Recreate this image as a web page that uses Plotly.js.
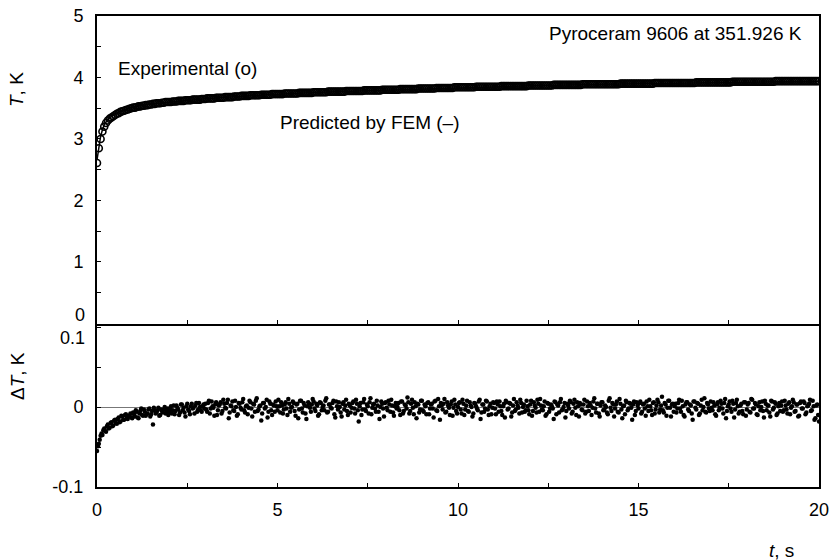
<!DOCTYPE html>
<html>
<head>
<meta charset="utf-8">
<script src="https://cdn.plot.ly/plotly-3.0.1.min.js"></script>
<style>html,body{margin:0;padding:0;background:#fff}</style>
</head>
<body>
<div id="chart" style="width:834px;height:560px"></div>
<script>
// sampling grid of the measurement (s)
const tStart = 0;
const tStep = 0.05;

// Experimental temperature rise T (K), one value per sample
const T_exp = [
2.61,2.85,3.00,3.12,3.20,3.26,3.30,3.33,3.35,3.37,3.39,3.41,3.42,3.44,3.45,3.46,3.47,3.48,3.49,3.50,
3.51,3.51,3.52,3.53,3.53,3.54,3.54,3.55,3.55,3.56,3.56,3.57,3.57,3.58,3.58,3.58,3.59,3.59,3.60,3.60,
3.60,3.60,3.61,3.61,3.61,3.62,3.62,3.62,3.62,3.63,3.63,3.63,3.63,3.64,3.64,3.64,3.64,3.64,3.65,3.65,
3.65,3.66,3.66,3.66,3.66,3.66,3.67,3.67,3.67,3.67,3.67,3.68,3.68,3.68,3.68,3.68,3.69,3.69,3.69,3.69,
3.70,3.70,3.70,3.70,3.70,3.71,3.71,3.71,3.71,3.71,3.71,3.72,3.72,3.72,3.72,3.72,3.72,3.73,3.73,3.73,
3.73,3.73,3.73,3.73,3.74,3.74,3.74,3.74,3.74,3.74,3.74,3.74,3.75,3.75,3.75,3.75,3.75,3.75,3.75,3.75,
3.76,3.76,3.76,3.76,3.76,3.76,3.76,3.76,3.77,3.77,3.77,3.77,3.77,3.77,3.77,3.77,3.77,3.77,3.78,3.78,
3.78,3.78,3.78,3.78,3.78,3.78,3.78,3.78,3.79,3.79,3.79,3.79,3.79,3.79,3.79,3.79,3.79,3.79,3.80,3.80,
3.80,3.80,3.80,3.80,3.80,3.80,3.80,3.80,3.81,3.81,3.81,3.81,3.81,3.81,3.81,3.81,3.81,3.81,3.82,3.82,
3.82,3.82,3.82,3.82,3.82,3.82,3.82,3.82,3.83,3.83,3.83,3.83,3.83,3.83,3.83,3.83,3.83,3.83,3.84,3.84,
3.84,3.84,3.84,3.84,3.84,3.84,3.84,3.84,3.84,3.84,3.85,3.85,3.85,3.85,3.85,3.85,3.85,3.85,3.85,3.85,
3.85,3.85,3.85,3.85,3.86,3.86,3.86,3.86,3.86,3.86,3.86,3.86,3.86,3.86,3.86,3.86,3.86,3.86,3.86,3.87,
3.87,3.87,3.87,3.87,3.87,3.87,3.87,3.87,3.87,3.87,3.87,3.87,3.87,3.88,3.88,3.88,3.88,3.88,3.88,3.88,
3.88,3.88,3.88,3.88,3.88,3.88,3.88,3.88,3.88,3.89,3.89,3.89,3.89,3.89,3.89,3.89,3.89,3.89,3.89,3.89,
3.89,3.89,3.89,3.89,3.89,3.89,3.89,3.89,3.89,3.89,3.90,3.90,3.90,3.90,3.90,3.90,3.90,3.90,3.90,3.90,
3.90,3.90,3.90,3.90,3.90,3.90,3.90,3.90,3.90,3.91,3.91,3.91,3.91,3.91,3.91,3.91,3.91,3.91,3.91,3.91,
3.91,3.91,3.91,3.91,3.91,3.91,3.91,3.91,3.91,3.91,3.91,3.91,3.92,3.92,3.92,3.92,3.92,3.92,3.92,3.92,
3.92,3.92,3.92,3.92,3.92,3.92,3.92,3.92,3.92,3.92,3.92,3.92,3.93,3.93,3.93,3.93,3.93,3.93,3.93,3.93,
3.93,3.93,3.93,3.93,3.93,3.93,3.93,3.93,3.93,3.93,3.93,3.93,3.93,3.93,3.93,3.93,3.94,3.94,3.94,3.94,
3.94,3.94,3.94,3.94,3.94,3.94,3.94,3.94,3.94,3.94,3.94,3.94,3.94,3.94,3.94,3.94,3.94,3.94,3.94,3.94,
3.94
];

// Residuals ΔT (K) at the same sample times as T_exp
const dT = [
-0.055,-0.046,-0.036,-0.035,-0.027,-0.031,-0.022,-0.026,-0.019,-0.023,-0.016,-0.021,-0.013,-0.018,-0.012,-0.016,-0.009,-0.015,-0.011,-0.013,
-0.007,-0.012,-0.006,-0.014,-0.005,-0.010,-0.003,-0.011,-0.008,-0.002,-0.009,-0.022,-0.004,-0.007,-0.001,-0.010,-0.005,-0.003,-0.008,-0.002,
-0.006,0.001,-0.004,-0.009,0.002,-0.003,-0.007,0.003,-0.001,-0.012,0.004,-0.005,0.001,-0.002,-0.008,0.005,-0.003,0.000,-0.006,0.003,
0.004,-0.006,0.008,-0.002,0.001,-0.011,0.006,-0.004,0.003,-0.008,0.009,-0.001,0.005,-0.014,0.002,0.007,-0.005,0.000,-0.009,0.004,
-0.003,0.010,-0.007,0.002,-0.001,0.006,-0.012,0.003,0.008,-0.005,0.001,-0.017,0.005,-0.002,0.009,-0.006,0.004,-0.010,0.002,0.007,
-0.004,0.001,0.006,-0.008,0.003,-0.002,0.010,-0.006,0.000,0.005,-0.011,0.004,-0.003,0.008,-0.007,0.002,-0.015,0.006,-0.001,0.003,
0.007,-0.005,0.002,-0.009,0.005,0.000,-0.004,0.011,-0.006,0.003,-0.002,0.008,-0.013,0.001,0.006,-0.007,0.004,-0.003,0.009,-0.010,
0.002,-0.001,0.007,-0.008,0.004,-0.018,0.005,-0.003,0.010,-0.005,0.001,0.006,-0.009,0.003,-0.002,0.008,-0.006,0.000,0.004,-0.012,
0.006,-0.004,0.003,0.009,-0.007,0.001,-0.002,0.005,-0.010,0.007,-0.005,0.002,0.012,-0.008,0.004,-0.001,0.006,-0.014,0.003,-0.003,
0.008,-0.006,0.001,0.005,-0.009,0.003,-0.002,0.007,-0.004,0.010,-0.016,0.002,0.004,-0.007,0.006,-0.001,0.003,-0.011,0.009,-0.005,
0.000,0.006,-0.008,0.004,-0.003,0.008,-0.006,0.002,-0.012,0.005,0.001,-0.004,0.009,-0.007,0.003,-0.002,0.007,-0.010,0.004,-0.001,
0.005,-0.009,0.003,0.007,-0.005,0.001,-0.013,0.006,-0.002,0.004,-0.007,0.010,-0.003,0.002,-0.008,0.005,0.000,-0.006,0.008,-0.004,
0.003,-0.011,0.006,-0.001,0.009,-0.006,0.002,-0.004,0.007,-0.009,0.004,-0.002,0.001,-0.015,0.006,0.003,-0.007,0.010,-0.003,0.005,
-0.005,0.002,0.008,-0.008,0.004,-0.001,0.006,-0.012,0.003,-0.004,0.009,-0.006,0.001,0.005,-0.010,0.007,-0.002,0.004,-0.008,0.002,
0.006,-0.003,0.000,-0.009,0.011,-0.005,0.003,-0.002,0.007,-0.007,0.004,-0.014,0.002,0.008,-0.004,0.005,-0.001,0.003,-0.010,0.006,
-0.002,0.007,-0.006,0.004,-0.011,0.001,0.009,-0.004,0.005,-0.008,0.002,0.006,-0.003,0.013,-0.007,0.003,-0.001,0.008,-0.012,0.004,
0.001,-0.007,0.005,-0.002,0.008,-0.010,0.003,0.006,-0.005,0.002,-0.016,0.007,-0.003,0.004,-0.008,0.009,0.000,-0.006,0.005,-0.002,
0.007,-0.004,0.002,-0.011,0.006,-0.001,0.004,-0.008,0.010,-0.005,0.003,-0.002,0.008,-0.013,0.005,0.001,-0.006,0.004,-0.009,0.006,
-0.003,0.005,-0.007,0.009,-0.002,0.003,-0.010,0.006,0.000,-0.005,0.008,-0.004,0.002,-0.012,0.007,-0.001,0.004,-0.008,0.005,0.002,
-0.006,0.008,-0.003,0.004,-0.009,0.001,0.006,-0.005,0.003,-0.011,0.007,-0.002,0.005,-0.007,0.002,0.009,-0.004,0.001,-0.014,0.003,
-0.018
];

// Residuals ΔT (K) at the in-between sample times (t = 0.025, 0.075, ...)
const tMidStart = 0.025;
const dT_mid = [
-0.049,-0.041,-0.033,-0.029,-0.030,-0.024,-0.027,-0.020,-0.024,-0.017,-0.020,-0.015,-0.019,-0.011,-0.016,-0.010,-0.014,-0.012,-0.008,-0.014,
-0.009,-0.004,-0.013,-0.008,-0.002,-0.011,-0.006,-0.009,-0.003,-0.012,-0.005,-0.001,-0.008,-0.004,-0.011,-0.003,-0.007,0.000,-0.006,-0.010,
-0.002,-0.008,0.002,-0.005,-0.001,-0.010,0.003,-0.004,-0.007,0.001,-0.003,-0.009,0.004,-0.001,0.002,-0.006,0.005,-0.004,0.001,-0.002,
-0.003,0.005,-0.008,0.007,-0.001,0.003,-0.010,0.002,0.006,-0.005,0.004,-0.002,0.009,-0.007,0.001,-0.004,0.008,-0.011,0.005,-0.001,
0.006,-0.004,0.001,-0.009,0.008,-0.002,0.004,-0.006,0.011,-0.003,0.002,-0.008,0.005,0.000,-0.013,0.007,-0.004,0.003,-0.006,0.001,
0.009,-0.007,0.002,-0.003,0.006,-0.010,0.004,-0.001,0.007,-0.005,0.003,-0.014,0.008,-0.002,0.005,-0.008,0.001,0.004,-0.006,0.010,
-0.002,0.004,-0.011,0.006,-0.004,0.002,0.008,-0.007,0.003,-0.001,0.005,-0.009,0.007,-0.003,0.000,-0.012,0.006,0.002,-0.005,0.004,
-0.007,0.005,-0.002,0.009,-0.004,0.001,-0.010,0.006,-0.003,0.003,-0.008,0.011,-0.001,0.004,-0.006,0.002,-0.015,0.007,-0.002,0.005,
-0.001,0.008,-0.006,0.002,-0.011,0.005,0.000,-0.004,0.007,-0.008,0.003,-0.002,0.006,-0.005,0.009,-0.009,0.001,0.004,-0.007,0.008,
-0.004,0.003,-0.009,0.006,-0.002,0.004,-0.013,0.008,-0.005,0.001,0.005,-0.003,0.010,-0.006,0.002,-0.010,0.007,-0.001,0.003,-0.008,
0.005,-0.003,0.009,-0.010,0.002,-0.005,0.006,0.000,-0.008,0.004,-0.002,0.007,-0.015,0.003,-0.006,0.008,-0.003,0.001,-0.009,0.006,
-0.002,0.007,-0.006,0.001,-0.010,0.004,0.008,-0.003,0.005,-0.012,0.002,-0.005,0.006,-0.001,0.009,-0.007,0.003,-0.004,0.001,-0.009,
0.008,-0.005,0.002,-0.007,0.004,0.010,-0.003,0.001,-0.011,0.005,-0.006,0.003,-0.002,0.007,-0.009,0.002,0.006,-0.004,0.000,-0.013,
0.004,-0.002,0.006,-0.006,0.009,-0.010,0.001,0.005,-0.003,0.003,-0.008,0.007,-0.005,0.002,-0.001,0.011,-0.007,0.004,-0.012,0.006,
-0.004,0.002,-0.007,0.008,-0.001,0.005,-0.012,0.003,-0.006,0.010,-0.003,0.001,-0.009,0.006,-0.002,0.004,-0.016,0.007,-0.005,0.002,
0.005,-0.008,0.003,-0.002,0.007,-0.005,0.001,-0.010,0.006,-0.003,0.009,-0.007,0.002,-0.004,0.005,-0.011,0.008,-0.001,0.003,-0.006,
0.004,-0.002,0.009,-0.006,0.001,-0.012,0.006,-0.003,0.003,-0.008,0.007,-0.001,0.005,-0.010,0.002,-0.004,0.011,-0.007,0.003,-0.005,
-0.001,0.006,-0.009,0.003,-0.004,0.008,-0.002,0.005,-0.014,0.001,0.007,-0.006,0.004,-0.003,0.009,-0.008,0.002,-0.005,0.006,-0.011,
0.003,-0.006,0.010,-0.002,0.005,-0.009,0.001,-0.004,0.007,-0.013,0.004,0.002,-0.007,0.008,-0.003,0.006,-0.010,0.001,-0.005,0.007,
-0.004,0.002,-0.008,0.006,-0.001,0.009,-0.006,0.003,-0.012,0.005,-0.002,0.007,-0.009,0.001,0.004,-0.005,0.008,-0.016,0.002,-0.010
];

// FEM prediction (line)
const t_fem = [0,0.05,0.1,0.15,0.2,0.3,0.4,0.5,0.7,1,1.5,2,2.5,3,4,5,6,7,8,10,12,14,16,18,20];
const T_fem = [2.66,2.89,3.04,3.15,3.23,3.32,3.37,3.41,3.46,3.52,3.57,3.60,3.63,3.655,3.695,3.73,3.755,3.775,3.795,3.835,3.865,3.89,3.91,3.926,3.94];

// tick labels
const xTickVals = [0,5,10,15,20];
const xTickText = ['0','5','10','15','20'];
const yTopTickVals = [0,1,2,3,4,5];
const yTopTickText = ['','1','2','3','4','5'];
const yBotTickVals = [-0.1,0,0.1];
const yBotTickText = ['-0.1','0',''];

const t = T_exp.map((_, i) => +(tStart + i * tStep).toFixed(3));
const tMid = dT_mid.map((_, i) => +(tMidStart + i * tStep).toFixed(3));

const FONT = 'Arial, "Liberation Sans", sans-serif';

const traces = [
  {x: t_fem, y: T_fem, xaxis: 'x2', yaxis: 'y2', mode: 'lines', type: 'scatter',
   line: {color: '#000', width: 1.5}, hoverinfo: 'skip'},
  {x: t, y: T_exp, xaxis: 'x2', yaxis: 'y2', mode: 'markers', type: 'scatter',
   marker: {symbol: 'circle-open', size: 7, color: '#000', line: {width: 1.6, color: '#000'}}},
  {x: t.concat(tMid), y: dT.concat(dT_mid), xaxis: 'x', yaxis: 'y', mode: 'markers', type: 'scatter',
   marker: {symbol: 'circle', size: 4.5, color: '#000'}}
];

function px2x(px){ return (px - 97) / 722; }
function px2y(py){ return (487 - py) / 471; }

const annFont = {family: FONT, size: 19, color: '#000'};
const tickFont = {family: FONT, size: 18, color: '#000'};
const splitBot = 0.3418;
const splitTop = 0.3418 + 2 / 471;

const layout = {
  width: 834, height: 560,
  margin: {l: 97, r: 15, t: 16, b: 73},
  paper_bgcolor: '#fff', plot_bgcolor: '#fff',
  showlegend: false,
  font: {family: FONT, size: 18, color: '#000'},
  xaxis: {
    domain: [0, 1], anchor: 'y', range: [0, 20],
    tickmode: 'array', tickvals: xTickVals, ticktext: xTickText,
    ticks: 'inside', ticklen: 4, tickwidth: 1, tickcolor: '#000',
    minor: {tickmode: 'linear', tick0: 0, dtick: 2.5, ticks: 'inside', ticklen: 4, tickcolor: '#000'},
    showline: true, linewidth: 2, linecolor: '#000', mirror: true,
    showgrid: false, zeroline: false, ticklabelstandoff: 5,
    tickfont: tickFont
  },
  xaxis2: {
    domain: [0, 1], anchor: 'y2', range: [0, 20], matches: 'x',
    showticklabels: false,
    tickmode: 'array', tickvals: xTickVals,
    ticks: 'inside', ticklen: 4, tickcolor: '#000',
    minor: {tickmode: 'linear', tick0: 0, dtick: 2.5, ticks: 'inside', ticklen: 4, tickcolor: '#000'},
    showline: true, linewidth: 2, linecolor: '#000', mirror: true,
    showgrid: false, zeroline: false
  },
  yaxis: {
    domain: [0, splitBot], anchor: 'x', range: [-0.1, 0.1013],
    tickmode: 'array', tickvals: yBotTickVals, ticktext: yBotTickText,
    ticks: 'inside', ticklen: 4, tickcolor: '#000',
    minor: {tickmode: 'linear', tick0: 0, dtick: 0.05, ticks: 'inside', ticklen: 4, tickcolor: '#000'},
    showline: true, linewidth: 2, linecolor: '#000', mirror: true,
    showgrid: false, zeroline: true, zerolinecolor: '#777', zerolinewidth: 1,
    ticklabelstandoff: 8,
    tickfont: tickFont
  },
  yaxis2: {
    domain: [splitTop, 1], anchor: 'x2', range: [-0.01, 5],
    tickmode: 'array', tickvals: yTopTickVals, ticktext: yTopTickText,
    ticks: 'inside', ticklen: 4, tickcolor: '#000',
    minor: {tickmode: 'linear', tick0: 0, dtick: 0.5, ticks: 'inside', ticklen: 4, tickcolor: '#000'},
    showline: true, linewidth: 2, linecolor: '#000', mirror: true,
    showgrid: false, zeroline: false,
    ticklabelstandoff: 8,
    tickfont: tickFont
  },
  annotations: [
    {text: 'Pyroceram 9606 at 351.926 K', xref: 'paper', yref: 'paper', x: px2x(804), y: px2y(33),
     xanchor: 'right', yanchor: 'middle', showarrow: false, font: annFont},
    {text: 'Experimental (o)', xref: 'paper', yref: 'paper', x: px2x(116), y: px2y(69),
     xanchor: 'left', yanchor: 'middle', showarrow: false, font: annFont},
    {text: 'Predicted by FEM (–)', xref: 'paper', yref: 'paper', x: px2x(278), y: px2y(123),
     xanchor: 'left', yanchor: 'middle', showarrow: false, font: annFont},
    {text: '<i>T</i>, K', xref: 'paper', yref: 'paper', x: px2x(17), y: px2y(90),
     xanchor: 'center', yanchor: 'middle', textangle: -90, showarrow: false,
     font: {family: FONT, size: 19, color: '#000'}},
    {text: 'Δ<i>T</i>, K', xref: 'paper', yref: 'paper', x: px2x(17), y: px2y(376),
     xanchor: 'center', yanchor: 'middle', textangle: -90, showarrow: false,
     font: {family: FONT, size: 19, color: '#000'}},
    {text: '<i>t</i>, s', xref: 'paper', yref: 'paper', x: px2x(781), y: px2y(550),
     xanchor: 'center', yanchor: 'middle', showarrow: false,
     font: {family: FONT, size: 19, color: '#000'}},
    {text: '0', xref: 'paper', yref: 'paper', x: px2x(87), y: px2y(315),
     xanchor: 'right', yanchor: 'middle', showarrow: false, font: tickFont},
    {text: '0.1', xref: 'paper', yref: 'paper', x: px2x(87), y: px2y(338),
     xanchor: 'right', yanchor: 'middle', showarrow: false, font: tickFont}
  ]
};

Plotly.newPlot('chart', traces, layout, {staticPlot: true, displayModeBar: false});
</script>
</body>
</html>
